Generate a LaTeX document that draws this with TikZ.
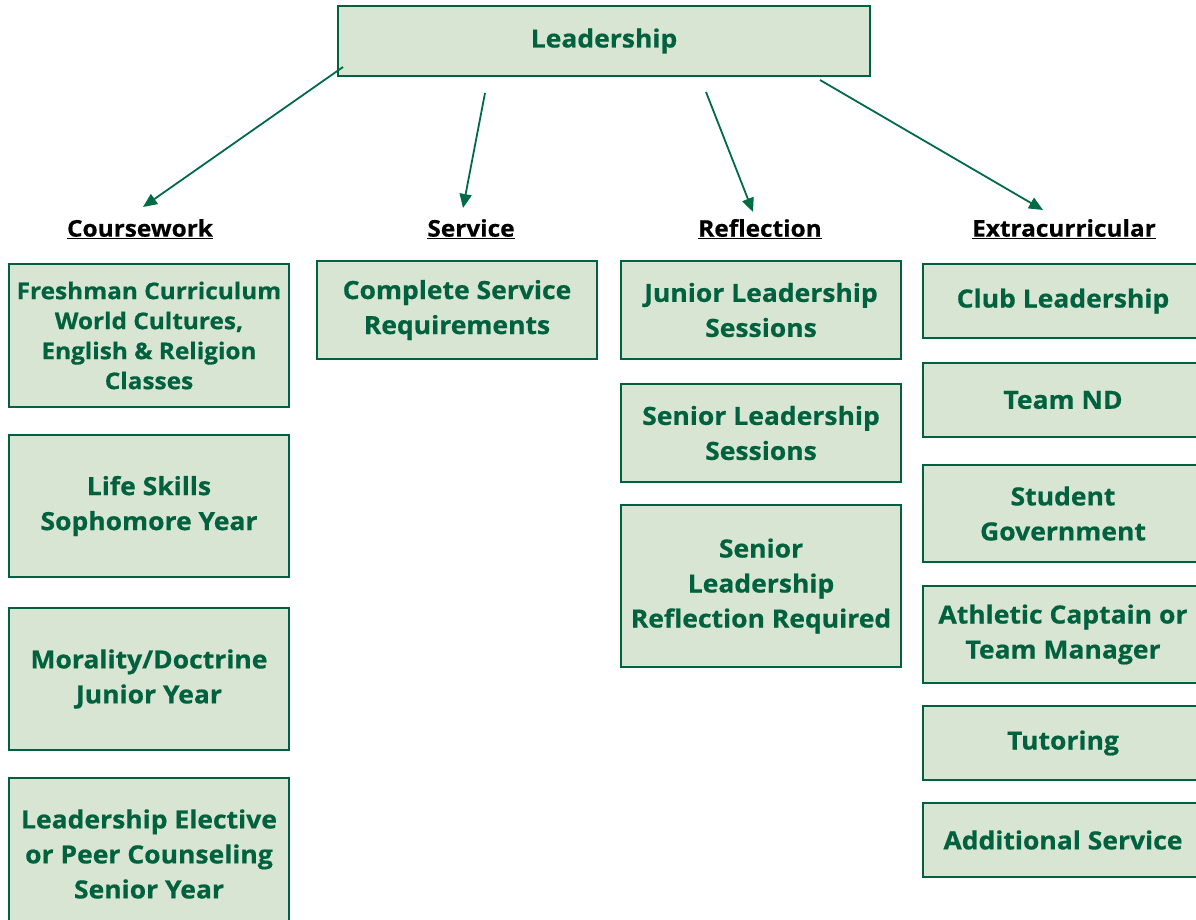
\documentclass[tikz,border=0pt]{standalone}
\usepackage{fontspec}
\setmainfont{Open Sans}[BoldFeatures={FakeStretch=1.06,FakeBold=0.6}]
\usetikzlibrary{arrows.meta}
\definecolor{dgreen}{HTML}{00613F}
\definecolor{agreen}{HTML}{006B45}
\definecolor{lfill}{HTML}{D8E5D2}
\begin{document}
\begin{tikzpicture}[x=1pt,y=-1pt,
  box/.style={draw=dgreen,line width=2.6pt,fill=lfill,text=dgreen,font=\bfseries\fontsize{25}{35}\selectfont,align=center,inner sep=0pt},
  hdr/.style={font=\bfseries\fontsize{23}{25}\selectfont,text=black,inner sep=0pt},
  arr/.style={draw=agreen,line width=1.8pt,-{Triangle[length=14pt,width=12pt]}}]
\useasboundingbox (0,0) rectangle (1196,919);
\fill[white] (0,0) rectangle (1196,919);
% top
\node[box,minimum width=532pt,minimum height=70pt] (top) at (604,41) {Leadership};
% headers
\node[hdr] (h1) at (140,229) {\underline{Coursework}};
\node[hdr] (h2) at (471,229) {\underline{Service}};
\node[hdr] (h3) at (760,229) {\underline{Reflection}};
\node[hdr] (h4) at (1064,229) {\underline{Extracurricular}};
% arrows
\coordinate (s1) at (343,67); \coordinate (e1) at (143,207);
\coordinate (s2) at (485,93); \coordinate (e2) at (463,208);
\coordinate (s3) at (706,92); \coordinate (e3) at (753,212);
\coordinate (s4) at (820,80); \coordinate (e4) at (1043,210);
\draw[arr] (s1) -- (e1);
\draw[arr] (s2) -- (e2);
\draw[arr] (s3) -- (e3);
\draw[arr] (s4) -- (e4);
% column 1
\node[box,minimum width=280pt,minimum height=143pt,font=\bfseries\fontsize{23}{30}\selectfont] (c1a) at (149,335.5) {Freshman Curriculum\\World Cultures,\\English \& Religion\\Classes};
\node[box,minimum width=280pt,minimum height=142pt] (c1b) at (149,506) {Life Skills\\Sophomore Year};
\node[box,minimum width=280pt,minimum height=142pt] (c1c) at (149,679) {Morality/Doctrine\\Junior Year};
\node[box,minimum width=280pt,minimum height=152pt] (c1d) at (149,854) {Leadership Elective\\or Peer Counseling\\Senior Year};
% column 2
\node[box,minimum width=280pt,minimum height=98pt] (c2a) at (457,310) {Complete Service\\Requirements};
% column 3
\node[box,minimum width=280pt,minimum height=98pt] (c3a) at (761,310) {Junior Leadership\\Sessions};
\node[box,minimum width=280pt,minimum height=98pt] (c3b) at (761,433) {Senior Leadership\\Sessions};
\node[box,minimum width=280pt,minimum height=162pt] (c3c) at (761,586) {Senior\\Leadership\\Reflection Required};
% column 4
\node[box,minimum width=280pt,minimum height=74pt] (c4a) at (1063,301) {Club Leadership};
\node[box,minimum width=280pt,minimum height=74pt] (c4b) at (1063,400) {Team ND};
\node[box,minimum width=280pt,minimum height=97pt] (c4c) at (1063,513.5) {Student\\Government};
\node[box,minimum width=280pt,minimum height=97pt] (c4d) at (1063,634.5) {Athletic Captain or\\Team Manager};
\node[box,minimum width=280pt,minimum height=74pt] (c4e) at (1063,743) {Tutoring};
\node[box,minimum width=280pt,minimum height=74pt] (c4f) at (1063,840) {Additional Service};
\end{tikzpicture}
\end{document}
